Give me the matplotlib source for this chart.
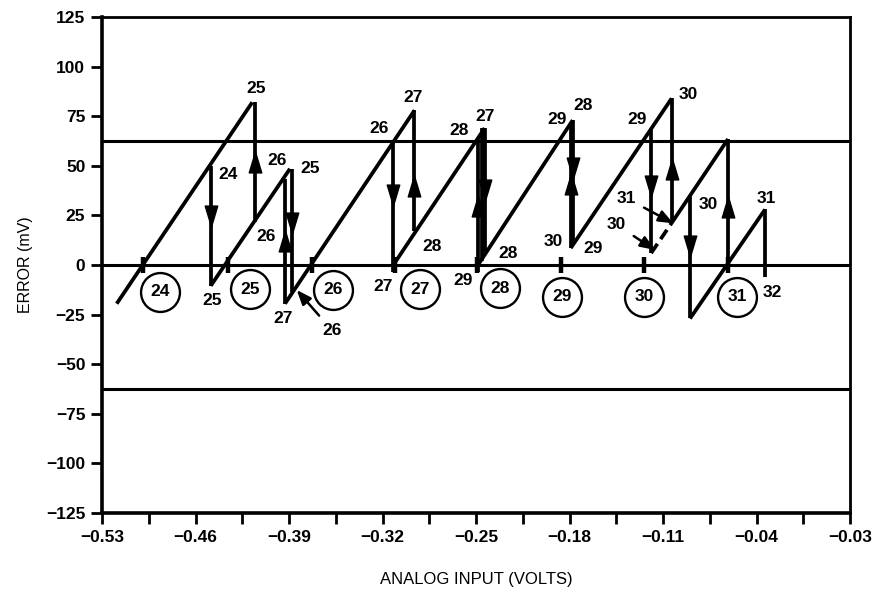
import matplotlib
matplotlib.use("Agg")
import matplotlib.pyplot as plt
from matplotlib.path import Path

plt.rcParams['font.family'] = ['Liberation Sans', 'DejaVu Sans']

# ---------------- data ----------------
# sloped error ramps (start -> end), volts / mV
ramp_x0 = [-0.519, -0.4486, -0.393, -0.3119, -0.2485, -0.1791, -0.1027, -0.0898]
ramp_y0 = [-19.5, -10.5, -19.5, 0.0, 0.0, 8.5, 22.0, -27.0]
ramp_x1 = [-0.4175, -0.3893, -0.2960, -0.2435, -0.1776, -0.1035, -0.0613, -0.0336]
ramp_y1 = [82.0, 48.5, 78.0, 69.0, 73.0, 84.0, 63.5, 28.0]

# broken (dashed) part of ramp for code 31
dash_x = [-0.1189, -0.1027]
dash_y = [6.0, 22.0]

# vertical code transitions
vert_x = [-0.4486, -0.4155, -0.3930, -0.3880, -0.3119, -0.2962, -0.2483, -0.2458,
          -0.2433, -0.1791, -0.1774, -0.1192, -0.1035, -0.0898, -0.0611, -0.0336]
vert_lo = [-10.5, 21.5, -19.5, -13.5, -3.5, 17.0, -3.5, 2.0,
           6.5, 8.5, 10.5, 6.0, 21.5, -26.5, -3.0, -6.0]
vert_hi = [50.0, 82.0, 43.5, 48.5, 62.0, 78.0, 64.0, 69.0,
           69.0, 71.0, 73.0, 68.0, 84.0, 35.0, 63.5, 28.0]
vert_dir = ['down', 'up', 'up', 'down', 'down', 'up', 'up', '',
            'down', 'up', 'down', 'down', 'up', 'down', 'up', '']
vert_arrow_y = [24.5, 52.0, 12.0, 21.0, 35.5, 40.0, 29.5, 0,
                38.0, 41.0, 49.0, 40.0, 48.5, 9.5, 29.0, 0]

# code-centre marks on the zero line
centre_x = [-0.499, -0.436, -0.373, -0.311, -0.249, -0.186, -0.124, -0.0615]

# circled code numbers
code_labels = ['24', '25', '26', '27', '28', '29', '30', '31']
code_x = [-0.4866, -0.4192, -0.3571, -0.2919, -0.2320, -0.1856, -0.1242, -0.0546]
code_y = [-13.6, -12.1, -12.6, -12.1, -11.6, -16.1, -16.1, -16.1]

# plain number labels
num_text = ['25', '24', '25', '26', '25', '26', '27',
            '27', '26', '28', '27', '28', '27', '29', '28',
            '29', '28', '30', '29', '30', '29', '30', '31', '32']
num_x = [-0.4147, -0.4354, -0.4479, -0.3992, -0.3743, -0.4074, -0.3947,
         -0.2974, -0.3224, -0.2832, -0.3194, -0.2625, -0.2433, -0.2595, -0.2258,
         -0.1896, -0.1697, -0.1921, -0.1622, -0.0911, -0.1293, -0.0761, -0.0324, -0.0282]
num_y = [89.1, 45.4, -18.0, 52.9, 48.7, 14.3, -26.9,
         84.5, 68.9, 9.2, -10.9, 68.0, 75.1, -7.6, 5.9,
         73.4, 80.6, 11.7, 8.4, 85.7, 73.4, 30.7, 33.6, -13.8]

# labels with pointer arrows: text, text position, arrow tip
ptr_text = ['26', '31', '30']
ptr_tx = [-0.3580, -0.1372, -0.1447]
ptr_ty = [-32.8, 33.6, 20.2]
ptr_x = [-0.3842, -0.1023, -0.1160]
ptr_y = [-12.6, 21.0, 7.6]

# axes
ref_levels = [62.5, 0.0, -62.5]
xtick_pos = [-0.53, -0.46, -0.39, -0.32, -0.25, -0.18, -0.11, -0.04, 0.03]
xtick_labels = ['\u22120.53', '\u22120.46', '\u22120.39', '\u22120.32', '\u22120.25',
                '\u22120.18', '\u22120.11', '\u22120.04', '\u22120.03']
ytick_pos = [125, 100, 75, 50, 25, 0, -25, -50, -75, -100, -125]

# ---------------- plot ----------------
fig = plt.figure(figsize=(8.83, 5.94), dpi=100)
ax = fig.add_axes([102 / 883, 1 - 513 / 594, 748 / 883, 496 / 594])
ax.set_xlim(-0.53, 0.03)
ax.set_ylim(-125, 125)

LW = 2.7
FS = 12.5
for y in ref_levels:
    ax.axhline(y, color='black', lw=2.2, zorder=2)

for x0, y0, x1, y1 in zip(ramp_x0, ramp_y0, ramp_x1, ramp_y1):
    ax.plot([x0, x1], [y0, y1], color='black', lw=LW, solid_capstyle='butt', zorder=3)

ax.plot(dash_x, dash_y, color='black', lw=LW, linestyle=(0, (3, 1.5)), zorder=3)

tri_up = Path([(-0.3, -0.5), (0.3, -0.5), (0.0, 0.5), (-0.3, -0.5)],
              [Path.MOVETO, Path.LINETO, Path.LINETO, Path.CLOSEPOLY])
tri_dn = Path([(-0.3, 0.5), (0.3, 0.5), (0.0, -0.5), (-0.3, 0.5)],
              [Path.MOVETO, Path.LINETO, Path.LINETO, Path.CLOSEPOLY])

for x, lo, hi, d, ay in zip(vert_x, vert_lo, vert_hi, vert_dir, vert_arrow_y):
    ax.plot([x, x], [lo, hi], color='black', lw=LW, solid_capstyle='butt', zorder=3)
    if d == 'up':
        ax.plot([x], [ay], marker=tri_up, ms=15, color='black', zorder=4)
    elif d == 'down':
        ax.plot([x], [ay], marker=tri_dn, ms=15, color='black', zorder=4)

for x in centre_x:
    ax.plot([x, x], [-4, 4], color='black', lw=3.2, solid_capstyle='butt', zorder=3)

for t, x, y in zip(code_labels, code_x, code_y):
    ax.plot([x], [y], marker='o', ms=28, mfc='white', mec='black', mew=1.7, zorder=5)
    ax.text(x, y, t, ha='center', va='center', fontsize=FS, fontweight='bold', zorder=6)

for t, x, y in zip(num_text, num_x, num_y):
    ax.text(x, y, t, ha='center', va='center', fontsize=FS, fontweight='bold', zorder=6)

for t, tx, ty, x, y in zip(ptr_text, ptr_tx, ptr_ty, ptr_x, ptr_y):
    ax.annotate(t, xy=(x, y), xytext=(tx, ty), ha='center', va='center',
                fontsize=FS, fontweight='bold', zorder=6,
                arrowprops=dict(arrowstyle='-|>,head_length=0.7,head_width=0.28',
                                color='black', lw=1.8, shrinkA=4, shrinkB=0))

ax.set_xticks(xtick_pos)
ax.set_xticklabels(xtick_labels)
ax.set_xticks([p + 0.035 for p in xtick_pos[:-1]], minor=True)
ax.set_yticks(ytick_pos)
ax.tick_params(axis='both', which='both', direction='out', length=8, width=2.0,
               labelsize=FS, pad=4)
for lab in ax.get_xticklabels() + ax.get_yticklabels():
    lab.set_fontweight('bold')

for side in ['left', 'bottom']:
    ax.spines[side].set_linewidth(2.6)
for side in ['top', 'right']:
    ax.spines[side].set_linewidth(2.0)

ax.set_xlabel('ANALOG INPUT (VOLTS)', fontsize=12, labelpad=20)
ax.set_ylabel('ERROR (mV)', fontsize=11.5, labelpad=9)

fig.savefig('out.png', dpi=100)
